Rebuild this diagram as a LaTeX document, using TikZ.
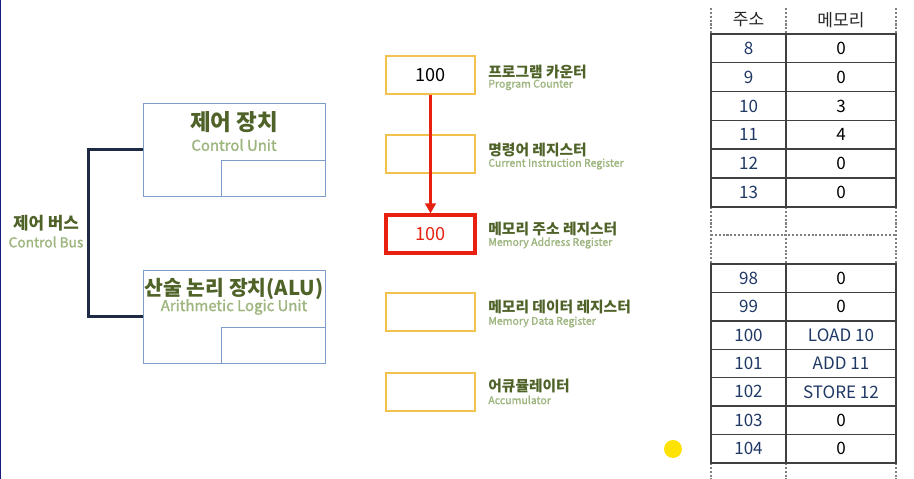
\documentclass[tikz,border=0pt]{standalone}
\usepackage{fontspec}
\setmainfont{Noto Sans CJK KR}
\newfontfamily\semibold[FakeBold=1.3]{Noto Sans CJK KR}
\usepackage{xcolor}
\usetikzlibrary{positioning, arrows.meta, calc}

\definecolor{titlegreen}{HTML}{4F6228}
\definecolor{subgreen}{HTML}{9DB57E}
\definecolor{unitblue}{HTML}{7F9DC9}
\definecolor{regyellow}{HTML}{F2C14E}
\definecolor{marred}{HTML}{E8200F}
\definecolor{busnavy}{HTML}{1F2A44}
\definecolor{tabnavy}{HTML}{1F3864}
\definecolor{tabline}{HTML}{404040}

\begin{document}
\begin{tikzpicture}[x=0.02cm, y=-0.02cm, >={Triangle[length=2mm, width=2.1mm]},
  unit/.style={draw=unitblue, line width=0.55pt, minimum width=3.64cm, minimum height=1.86cm},
  subunit/.style={draw=unitblue, line width=0.55pt, minimum width=2.08cm, minimum height=0.72cm, anchor=south east},
  reg/.style={draw=regyellow, line width=0.7pt, minimum width=1.78cm, minimum height=0.76cm, font=\fontsize{10.3}{12}\selectfont},
  title/.style={text=titlegreen, font=\bfseries\fontsize{12.8}{14}\selectfont, inner sep=0pt},
  sub/.style={text=subgreen, font=\semibold\fontsize{8.5}{10}\selectfont, inner sep=0pt},
  kor/.style={text=titlegreen, font=\bfseries\fontsize{8.4}{10}\selectfont, anchor=west, inner sep=0pt},
  eng/.style={text=subgreen, font=\semibold\fontsize{6}{7}\selectfont, anchor=west, inner sep=0pt},
  cell/.style={font=\fontsize{9.7}{11}\selectfont, text=tabnavy, inner sep=0pt},
  grid/.style={draw=tabline, line width=0.8pt},
  gap/.style={draw=gray, line width=0.6pt, dash pattern=on 1.2pt off 1pt}]
  \useasboundingbox[fill=white] (0,0) rectangle (914,479);
  \draw[line width=1pt, color=busnavy!70!blue] (0.5,0) -- (0.5,479);

  % CPU units and the control bus
  \node[unit] (cu)  at (234,149.5) {};
  \node[subunit] (cub) at (cu.south east) {};
  \node[title] (cut) at (234,122) {제어 장치};
  \node[sub]   (cue) at (234,145) {Control Unit};
  \node[unit] (alu) at (234,316.5) {};
  \node[subunit] (alub) at (alu.south east) {};
  \node[title, font=\bfseries\fontsize{11.6}{13}\selectfont] (alut) at (234,289) {산술 논리 장치(ALU)};
  \node[sub]   (alue) at (234,307) {Arithmetic Logic Unit};
  \node[title, font=\bfseries\fontsize{9.6}{11}\selectfont] (bus) at (46,223) {제어 버스};
  \node[sub, font=\semibold\fontsize{7.8}{9}\selectfont] (buse) at (46,242) {Control Bus};
  \draw[busnavy, line width=1.3pt] (cu.west) -- ++(-54,0) |- (alu.west);

  % registers
  \node[reg] (pc)  at (430.5,75)  {100};
  \node[reg] (ir)  at (430.5,154) {};
  \node[reg, draw=marred, line width=1.8pt, text=marred] (mar) at (430.5,234) {100};
  \node[reg] (mdr) at (430.5,312) {};
  \node[reg] (acc) at (430.5,392) {};
  \draw[->, marred, line width=1.3pt] (pc) -- (mar);

  \node[kor] (pck)  at (488,72)  {프로그램 카운터};
  \node[eng] (pce)  at (488,85)  {Program Counter};
  \node[kor] (irk)  at (488,150) {명령어 레지스터};
  \node[eng] (ire)  at (488,164) {Current Instruction Register};
  \node[kor] (mark) at (488,229) {메모리 주소 레지스터};
  \node[eng] (mare) at (488,243) {Memory Address Register};
  \node[kor] (mdrk) at (488,307) {메모리 데이터 레지스터};
  \node[eng] (mdre) at (488,322) {Memory Data Register};
  \node[kor] (acck) at (488,386) {어큐뮬레이터};
  \node[eng] (acce) at (488,400) {Accumulator};

  % memory table
  \foreach \x in {711,786,896} {
    \draw[gap] (\x,8) -- (\x,34);
    \draw[gap] (\x,207) -- (\x,264);
    \draw[gap] (\x,463) -- (\x,479);
  }
  \draw[gap] (711,235) -- (896,235);
  \node[cell, text=black!85] (ha) at (748.5,20) {주소};
  \node[cell, text=black!85] (hm) at (841,20) {메모리};

  \draw[grid] (711,34) rectangle (896,207);
  \draw[grid] (786,34) -- (786,207);
  \foreach \k in {1,...,5}
    \draw[grid] (711,34+28.8*\k) -- (896,34+28.8*\k);
  \foreach \a/\m [count=\i from 0] in {8/0, 9/0, 10/3, 11/4, 12/0, 13/0} {
    \node[cell] (a\a) at (748.5,48.4+28.8*\i) {\a};
    \node[cell, text=black] (m\a) at (841,48.4+28.8*\i) {\m};
  }

  \draw[grid] (711,264) rectangle (896,463);
  \draw[grid] (786,264) -- (786,463);
  \foreach \k in {1,...,6}
    \draw[grid] (711,264+28.43*\k) -- (896,264+28.43*\k);
  \foreach \a/\m/\c [count=\i from 0] in {98/0/black, 99/0/black, 100/LOAD 10/tabnavy,
      101/ADD 11/tabnavy, 102/STORE 12/tabnavy, 103/0/black, 104/0/black} {
    \node[cell] (a\a) at (748.5,278.2+28.43*\i) {\a};
    \node[cell, text=\c] (m\a) at (841,278.2+28.43*\i) {\m};
  }

  \fill[yellow!85!orange] (673,449) circle (0.18cm);
\end{tikzpicture}
\end{document}
